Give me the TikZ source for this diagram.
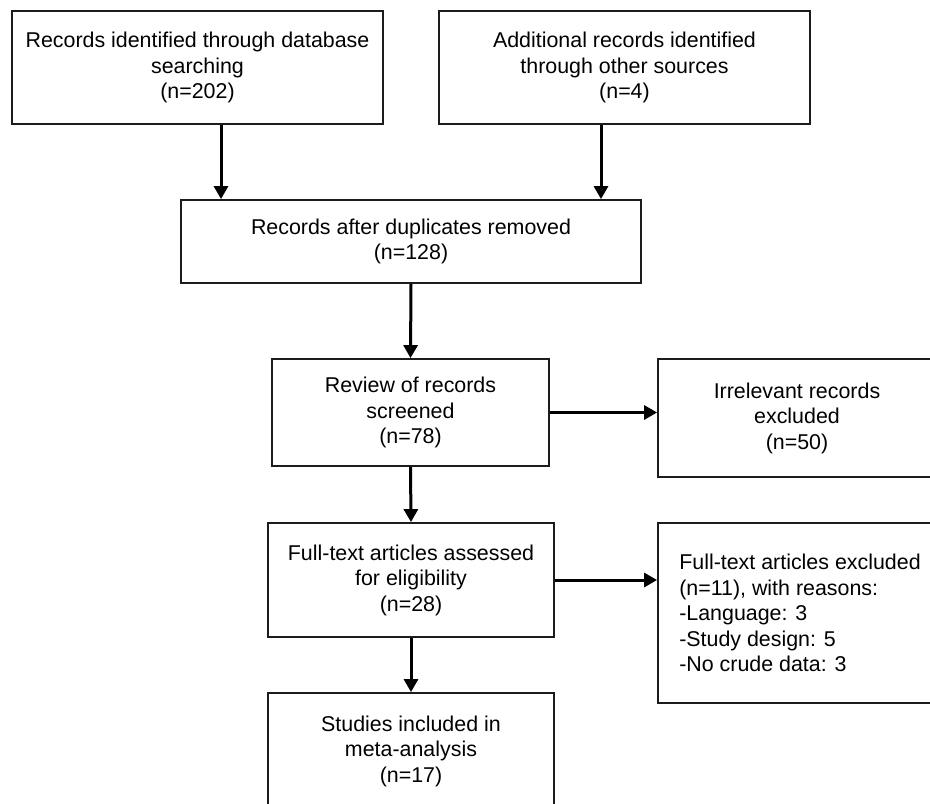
\documentclass[tikz,border=0pt]{standalone}
\usepackage{fontspec}
\setmainfont{Liberation Sans}
\usetikzlibrary{arrows.meta,calc,positioning}
\definecolor{PRBorde}{HTML}{1C1C1C}

\begin{document}
\begin{tikzpicture}[
      x=1pt, y=-1pt,
      registro/.style={rectangle, draw=PRBorde, line width=1.8pt, align=center,
        font=\fontsize{21.4}{25.5}\selectfont, inner sep=4pt},
      motivos/.style={registro, align=left},
      flecha/.style={-{Triangle[length=13pt,width=14pt]}, draw=black, line width=3pt},
    ]
    \useasboundingbox (0,0) rectangle (930,804);
    \clip (0,0) rectangle (930,804);

    \node[registro, minimum width=371pt, minimum height=113pt] (ident)   at (197.5,67.5) {Records identified through database\\searching\\(n=202)};
    \node[registro, minimum width=371pt, minimum height=113pt] (otras)   at (624.5,67.5) {Additional records identified\\through other sources\\(n=4)};
    \node[registro, minimum width=460pt, minimum height=83pt]  (dupl)    at (411,241.5)  {Records after duplicates removed\\(n=128)};
    \node[registro, minimum width=277pt, minimum height=107pt] (cribado) at (410.5,412.5) {Review of records\\screened\\(n=78)};
    \node[registro, minimum width=278pt, minimum height=118pt] (irrel)   at (797,418)    {Irrelevant records\\excluded\\(n=50)};
    \node[registro, minimum width=286pt, minimum height=114pt] (texto)   at (411,580)    {Full-text articles assessed\\for eligibility\\(n=28)};
    \node[motivos,  minimum width=284pt, minimum height=180pt] (excl)    at (800,613)    {Full-text articles excluded\\(n=11), with reasons:\\-Language: 3\\-Study design: 5\\-No crude data: 3};
    \node[registro, minimum width=286pt, minimum height=116pt] (incl)    at (411,751)    {Studies included in\\meta-analysis\\(n=17)};

    \draw[flecha] ([xshift=23.5pt]ident.south)  -- ([xshift=23.5pt]ident.south |- dupl.north);
    \draw[flecha] ([xshift=-23.5pt]otras.south) -- ([xshift=-23.5pt]otras.south |- dupl.north);
    \draw[flecha] (dupl.south)    -- (cribado.north);
    \draw[flecha] (cribado.east)  -- (cribado.east -| irrel.west);
    \draw[flecha] (cribado.south) -- (texto.north);
    \draw[flecha] (texto.east)    -- (texto.east -| excl.west);
    \draw[flecha] (texto.south)   -- (incl.north);

  \end{tikzpicture}
\end{document}
